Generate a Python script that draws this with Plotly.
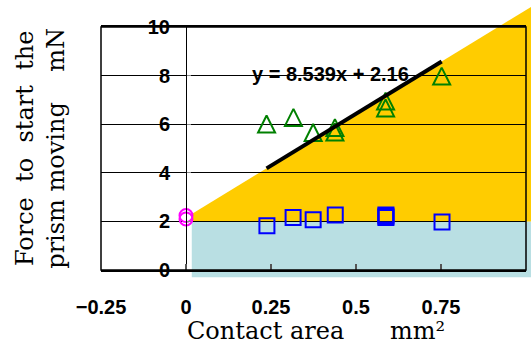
import plotly.graph_objects as go

# ---- data ----
tri_x = [0.237, 0.316, 0.374, 0.438, 0.438, 0.587, 0.587, 0.752]
tri_y = [6.01, 6.28, 5.66, 5.86, 5.68, 6.95, 6.67, 7.98]
sq_x = [0.238, 0.315, 0.374, 0.439, 0.588, 0.588, 0.588, 0.753]
sq_y = [1.82, 2.16, 2.07, 2.26, 2.26, 2.21, 2.16, 1.98]
circ_x = [0, 0]
circ_y = [2.24, 2.10]
trend_slope = 8.539
trend_icept = 2.16
x_ticks = [-0.25, 0, 0.25, 0.5, 0.75, 1]
y_ticks = [0, 2, 4, 6, 8, 10]
band_x = [0.017, 1.015]      # extent of the shaded regions (data x)
band_y = [-0.3, 2.0]         # lower (teal) band (data y)
eq_pos = [0.424, 8.07]       # equation label position (data)

X_RANGE = [-0.25, 1.0]
Y_RANGE = [0, 10]


def px(x):
    return (x - X_RANGE[0]) / (X_RANGE[1] - X_RANGE[0])


def py(y):
    return (y - Y_RANGE[0]) / (Y_RANGE[1] - Y_RANGE[0])


def trend(x):
    return trend_slope * x + trend_icept


fig = go.Figure()

# open triangles (green)
fig.add_trace(go.Scatter(
    x=tri_x, y=tri_y, mode="markers",
    marker=dict(symbol="arrow-down-open", size=17, angle=180, standoff=8.5,
                color="#008000", line=dict(color="#008000", width=2)),
    showlegend=False))
# open squares (blue)
fig.add_trace(go.Scatter(
    x=sq_x, y=sq_y, mode="markers",
    marker=dict(symbol="square-open", size=15,
                color="#0000FF", line=dict(color="#0000FF", width=2)),
    showlegend=False))
# open circles (magenta)
fig.add_trace(go.Scatter(
    x=circ_x, y=circ_y, mode="markers",
    marker=dict(symbol="circle-open", size=13,
                color="#FF00FF", line=dict(color="#FF00FF", width=2)),
    showlegend=False))
# trend line across the triangle data range
tx = [min(tri_x), max(tri_x)]
fig.add_trace(go.Scatter(
    x=tx, y=[trend(v) for v in tx], mode="lines",
    line=dict(color="black", width=4), showlegend=False))

# shaded regions (paper coords so they may spill past the frame)
x0, x1 = band_x
fig.add_shape(type="rect", xref="paper", yref="paper",
              x0=px(x0), x1=px(x1), y0=py(band_y[0]), y1=py(band_y[1]),
              fillcolor="#B9DFE3", line=dict(width=0), layer="below")
path = "M {a},{b} L {a},{c} L {d},{e} L {d},{b} Z".format(
    a=px(x0), b=py(band_y[1]), c=py(trend(x0)), d=px(x1), e=py(trend(x1)))
fig.add_shape(type="path", xref="paper", yref="paper", path=path,
              fillcolor="#FFCC00", line=dict(width=0), layer="below")
# frame
fig.add_shape(type="rect", xref="paper", yref="paper", x0=0, x1=1, y0=0, y1=1,
              line=dict(color="black", width=1.5), layer="above")

fig.add_annotation(x=eq_pos[0], y=eq_pos[1], xref="x", yref="y",
                   text="y = {}x + {}".format(trend_slope, trend_icept),
                   showarrow=False, font=dict(size=20, color="black",
                                              family="Liberation Sans",
                                              weight=600))

# axis titles as annotations
fig.add_annotation(x=-0.143, y=0.5, xref="paper", yref="paper",
                   text="Force  to  start  the<br>prism moving    mN",
                   textangle=-90, showarrow=False, xanchor="center", yanchor="middle",
                   font=dict(size=24, family="DejaVu Serif", color="black"))
fig.add_annotation(x=0.505, y=-0.25, xref="paper", yref="paper",
                   text="Contact area      mm²",
                   showarrow=False, xanchor="center", yanchor="middle",
                   font=dict(size=24, family="DejaVu Serif", color="black"))

tick_font = dict(size=20, family="Liberation Sans", color="black", weight=600)

fig.update_layout(
    width=531, height=346,
    margin=dict(l=101, r=5, t=27, b=76, autoexpand=False),
    paper_bgcolor="white", plot_bgcolor="rgba(0,0,0,0)",
    font=dict(family="Liberation Sans", size=20, color="black"),
    xaxis=dict(range=X_RANGE, tickvals=x_ticks, showgrid=False, zeroline=False,
               automargin=False,
               showline=True, linecolor="black", linewidth=1.5, mirror=True,
               ticks="inside", ticklen=6, tickwidth=1.5, tickcolor="#555555",
               ticklabelstandoff=18, tickfont=tick_font),
    yaxis=dict(range=Y_RANGE, tickvals=y_ticks, anchor="free", position=px(0),
               automargin=False,
               showgrid=True, gridcolor="black", gridwidth=1, zeroline=False,
               showline=True, linecolor="black", linewidth=1,
               ticks="inside", ticklen=4, tickwidth=1, tickcolor="#888888",
               ticklabelstandoff=12, tickfont=tick_font),
)

fig.write_html("out.html",
               config={"displayModeBar": False},
               post_script="document.body.style.margin='0px';"
                           "document.body.style.overflow='hidden';")
